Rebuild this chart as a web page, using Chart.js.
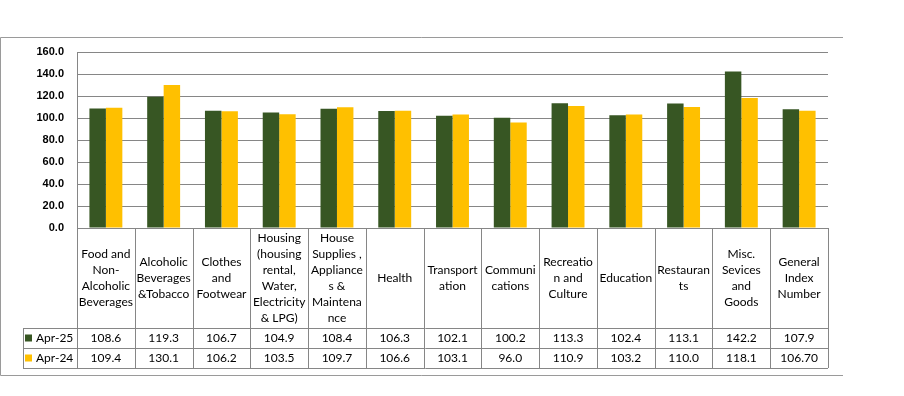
<!DOCTYPE html>
<html>
<head>
<meta charset="utf-8">
<script src="https://cdn.jsdelivr.net/npm/chart.js@4.4.1/dist/chart.umd.min.js"></script>
<style>
  html, body { margin: 0; padding: 0; background: #fff; }
  canvas { display: block; }
</style>
</head>
<body>
<canvas id="cpiChart" width="904" height="396"></canvas>
<script>
// categories as they are wrapped in the table header
const categories = [
  ['Food and', 'Non-', 'Alcoholic', 'Beverages'],
  ['Alcoholic', 'Beverages', '&Tobacco'],
  ['Clothes', 'and', 'Footwear'],
  ['Housing', '(housing', 'rental,', 'Water,', 'Electricity', '& LPG)'],
  ['House', 'Supplies ,', 'Appliance', 's &', 'Maintena', 'nce'],
  ['Health'],
  ['Transport', 'ation'],
  ['Communi', 'cations'],
  ['Recreatio', 'n and', 'Culture'],
  ['Education'],
  ['Restauran', 'ts'],
  ['Misc.', 'Sevices', 'and', 'Goods'],
  ['General', 'Index', 'Number']
];
const seriesNames = ['Apr-25', 'Apr-24'];
const apr25 = [108.6, 119.3, 106.7, 104.9, 108.4, 106.3, 102.1, 100.2, 113.3, 102.4, 113.1, 142.2, 107.9];
const apr24 = [109.4, 130.1, 106.2, 103.5, 109.7, 106.6, 103.1, 96.0, 110.9, 103.2, 110.0, 118.1, 106.70];
// printed text in the table (keeps the "106.70" as shown)
const apr25Text = ['108.6', '119.3', '106.7', '104.9', '108.4', '106.3', '102.1', '100.2', '113.3', '102.4', '113.1', '142.2', '107.9'];
const apr24Text = ['109.4', '130.1', '106.2', '103.5', '109.7', '106.6', '103.1', '96.0', '110.9', '103.2', '110.0', '118.1', '106.70'];

const colors = ['#375623', '#FFC000'];
const lineGray = '#868686';

// table under the plot, drawn from the x scale
const dataTable = {
  id: 'dataTable',
  afterDraw(chart) {
    const c = chart.ctx;
    const x = chart.scales.x;
    const area = chart.chartArea;
    const n = categories.length;
    const colW = (area.right - area.left) / n;
    const top = area.bottom;
    const headBottom = top + 100;
    const rowH = 20;
    const tableLeft = 23;

    c.save();
    c.strokeStyle = lineGray;
    c.lineWidth = 1;
    c.beginPath();
    // horizontal lines
    [headBottom, headBottom + rowH, headBottom + rowH * 2].forEach(y => {
      c.moveTo(tableLeft, Math.round(y) + 0.5);
      c.lineTo(area.right, Math.round(y) + 0.5);
    });
    // column separators
    for (let i = 0; i <= n; i++) {
      const bx = Math.round(area.left + i * colW) + 0.5;
      c.moveTo(bx, top);
      c.lineTo(bx, headBottom + rowH * 2);
    }
    c.moveTo(tableLeft + 0.5, headBottom);
    c.lineTo(tableLeft + 0.5, headBottom + rowH * 2);
    c.stroke();

    // header text
    c.fillStyle = '#000';
    c.font = '12px Lato, "Noto Sans", sans-serif';
    c.textAlign = 'center';
    c.textBaseline = 'middle';
    const lh = 16;
    categories.forEach((lines, i) => {
      const cx = x.getPixelForValue(i);
      const y0 = top + 50 - (lines.length - 1) * lh / 2;
      lines.forEach((t, k) => c.fillText(t, cx, y0 + k * lh));
    });

    // value rows
    [apr25Text, apr24Text].forEach((vals, r) => {
      const cy = headBottom + rowH * r + rowH / 2 + 0.5;
      vals.forEach((v, i) => c.fillText(v, x.getPixelForValue(i), cy));
      c.fillStyle = colors[r];
      c.fillRect(tableLeft + 2, cy - 4, 7, 7);
      c.fillStyle = '#000';
      c.textAlign = 'left';
      c.fillText(seriesNames[r], tableLeft + 13, cy);
      c.textAlign = 'center';
    });

    // outer frame (top, left, bottom)
    c.strokeStyle = '#9a9a9a';
    c.beginPath();
    c.moveTo(843, 37.5);
    c.lineTo(0.5, 37.5);
    c.lineTo(0.5, 375.5);
    c.lineTo(843, 375.5);
    c.stroke();
    c.restore();
  }
};

const ctx = document.getElementById('cpiChart').getContext('2d');
const cpiChart = new Chart(ctx, {
  type: 'bar',
  data: {
    labels: categories,
    datasets: [
      { label: seriesNames[0], data: apr25, backgroundColor: colors[0] },
      { label: seriesNames[1], data: apr24, backgroundColor: colors[1] }
    ]
  },
  options: {
    responsive: false,
    animation: false,
    layout: { padding: { left: 17, top: 52, right: 76, bottom: 168 } },
    categoryPercentage: 0.57,
    barPercentage: 1.0,
    plugins: {
      legend: { display: false },
      tooltip: { enabled: false }
    },
    scales: {
      x: { display: false },
      y: {
        min: 0,
        max: 160,
        afterFit(scale) { scale.width = 60; },
        border: { display: true, color: lineGray },
        grid: { color: lineGray, drawTicks: false },
        ticks: {
          stepSize: 20,
          padding: 13,
          color: '#000',
          font: { family: '"Liberation Sans", Arial, sans-serif', size: 11, weight: 'bold' },
          callback: v => v.toFixed(1)
        }
      }
    }
  },
  plugins: [dataTable]
});
</script>
</body>
</html>
